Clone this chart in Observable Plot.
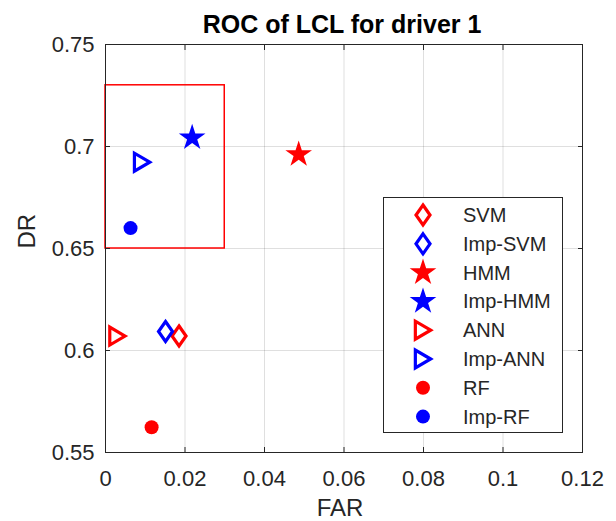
<!DOCTYPE html>
<html>
<head>
<meta charset="utf-8">
<script src="https://cdn.jsdelivr.net/npm/d3@7"></script>
<script src="https://cdn.jsdelivr.net/npm/@observablehq/plot@0.6"></script>
<style>
html, body { margin: 0; padding: 0; background: #fff; }
#chart { position: relative; width: 616px; height: 521px; font-family: "Liberation Sans", Arial, Helvetica, sans-serif; }
#chart svg { display: block; }
</style>
</head>
<body>
<div id="chart"></div>
<script>
// ---- data ----
const methods = ["SVM", "Imp-SVM", "HMM", "Imp-HMM", "ANN", "Imp-ANN", "RF", "Imp-RF"];
const far = [0.0185, 0.0151, 0.0486, 0.0218, 0.0030, 0.0092, 0.0116, 0.0063];
const dr  = [0.6071, 0.6093, 0.6961, 0.7043, 0.6071, 0.6923, 0.5624, 0.6600];
const colors = ["#ff0000", "#0000ff", "#ff0000", "#0000ff", "#ff0000", "#0000ff", "#ff0000", "#0000ff"];
const shapes = ["diamond", "diamond", "star", "star", "triangle", "triangle", "circle", "circle"];
const xTicks = [0, 0.02, 0.04, 0.06, 0.08, 0.1, 0.12];
const xTickLabels = ["0", "0.02", "0.04", "0.06", "0.08", "0.1", "0.12"];
const yTicks = [0.55, 0.6, 0.65, 0.7, 0.75];
const yTickLabels = ["0.55", "0.6", "0.65", "0.7", "0.75"];
const boxFar = [0, 0.03];
const boxDr = [0.65, 0.73];
const titleText = "ROC of LCL for driver 1";
const xLabel = "FAR";
const yLabel = "DR";

// ---- build table ----
const rows = methods.map((m, i) => ({method: m, far: far[i], dr: dr[i], color: colors[i], shape: shapes[i]}));
const boxRows = [{x1: boxFar[0], x2: boxFar[1], y1: boxDr[0], y2: boxDr[1]}];

// ---- marker shapes (MATLAB-like) ----
const symbolDefs = {
  diamond: {draw(ctx, size) { const r = Math.sqrt(size / Math.PI), w = r * 0.7;
    ctx.moveTo(0, -r); ctx.lineTo(w, 0); ctx.lineTo(0, r); ctx.lineTo(-w, 0); ctx.closePath(); }},
  triangle: {draw(ctx, size) { const r = Math.sqrt(size / Math.PI), w = r * 0.85;
    ctx.moveTo(w, 0); ctx.lineTo(-w, -r); ctx.lineTo(-w, r); ctx.closePath(); }},
  star: {draw(ctx, size) { const R = Math.sqrt(size / Math.PI), ri = R * 0.382;
    for (let i = 0; i < 10; i++) { const a = -Math.PI / 2 + i * Math.PI / 5, rr = i % 2 ? ri : R;
      const x = rr * Math.cos(a), y = rr * Math.sin(a); if (i) ctx.lineTo(x, y); else ctx.moveTo(x, y); }
    ctx.closePath(); }},
  circle: {draw(ctx, size) { const r = Math.sqrt(size / Math.PI); ctx.moveTo(r, 0); ctx.arc(0, 0, r, 0, 2 * Math.PI); }}
};
const symStyle = {
  diamond: {r: 10, filled: false},
  star: {r: 14, filled: true},
  triangle: {r: 9, filled: false},
  circle: {r: 7, filled: true}
};
const markerStroke = 3.2;
const axisColor = "#262626";

const shapeOrder = ["diamond", "star", "triangle", "circle"];
const dotMarks = shapeOrder.map(s => Plot.dot(rows.filter(d => d.shape === s), {
  x: "far", y: "dr",
  symbol: symbolDefs[s],
  r: symStyle[s].r,
  fill: symStyle[s].filled ? "color" : "none",
  stroke: symStyle[s].filled ? null : "color",
  strokeWidth: markerStroke,
  strokeLinejoin: "miter"
}));

const plot = Plot.plot({
  width: 616,
  height: 521,
  marginLeft: 105,
  marginRight: 34,
  marginTop: 44,
  marginBottom: 69,
  style: {fontFamily: '"Liberation Sans", Arial, Helvetica, sans-serif', background: "#fff", overflow: "visible"},
  x: {domain: [0, 0.12]},
  y: {domain: [0.55, 0.75]},
  color: {type: "identity"},
  marks: [
    Plot.gridX(xTicks, {stroke: axisColor, strokeOpacity: 0.15}),
    Plot.gridY(yTicks, {stroke: axisColor, strokeOpacity: 0.15}),
    Plot.rect(boxRows, {x1: "x1", x2: "x2", y1: "y1", y2: "y2", fill: "none", stroke: "#ff0000", strokeWidth: 1.5}),
    ...dotMarks,
    Plot.frame({stroke: axisColor, strokeWidth: 1}),
    Plot.axisX(xTicks, {anchor: "bottom", tickSize: -5, tickPadding: 22.4, fontSize: 22, color: axisColor, label: null,
      tickFormat: d => xTickLabels[xTicks.indexOf(d)]}),
    Plot.axisX(xTicks, {anchor: "top", tickSize: -5, color: axisColor, label: null, tickFormat: () => ""}),
    Plot.axisY(yTicks, {anchor: "left", tickSize: -5, tickPadding: 16, fontSize: 22, color: axisColor, label: null,
      tickFormat: d => yTickLabels[yTicks.indexOf(d)]}),
    Plot.axisY(yTicks, {anchor: "right", tickSize: -5, color: axisColor, label: null, tickFormat: () => ""}),
    Plot.text([titleText], {text: d => d, frameAnchor: "top", dy: -12, dx: -2, lineAnchor: "bottom",
      fontSize: 25, fontWeight: "bold", fill: "#000"}),
    Plot.text([xLabel], {text: d => d, frameAnchor: "bottom", dy: 63, dx: -4, lineAnchor: "bottom",
      fontSize: 24, fill: axisColor}),
    Plot.text([yLabel], {text: d => d, frameAnchor: "left", dx: -78, rotate: -90, lineAnchor: "middle",
      fontSize: 24, fill: axisColor})
  ]
});
document.getElementById("chart").appendChild(plot);

// ---- legend ----
const leg = d3.select("#chart").append("svg")
  .attr("width", 180).attr("height", 236)
  .style("position", "absolute").style("left", "383px").style("top", "197px")
  .style("font-family", '"Liberation Sans", Arial, Helvetica, sans-serif');
leg.append("rect").attr("x", 0.5).attr("y", 0.5).attr("width", 179).attr("height", 235)
  .attr("fill", "#fff").attr("stroke", axisColor).attr("stroke-width", 1);
rows.forEach((d, i) => {
  const g = leg.append("g").attr("transform", `translate(40,${18 + i * 28.8})`);
  const st = symStyle[d.shape];
  g.append("path")
    .attr("d", d3.symbol(symbolDefs[d.shape], Math.PI * st.r * st.r)())
    .attr("fill", st.filled ? d.color : "none")
    .attr("stroke", st.filled ? "none" : d.color)
    .attr("stroke-width", markerStroke)
    .attr("stroke-linejoin", "miter");
  g.append("text").attr("x", 40).attr("y", 0).attr("dy", "0.35em")
    .attr("font-size", 20).attr("fill", axisColor).text(d.method);
});
</script>
</body>
</html>
